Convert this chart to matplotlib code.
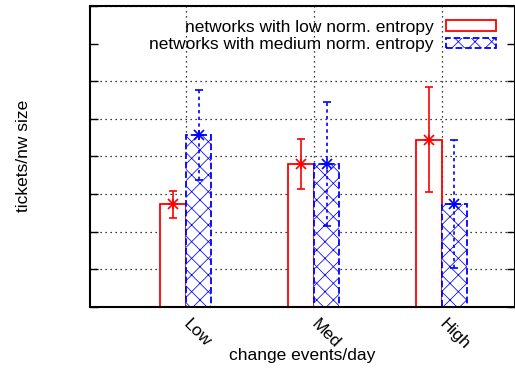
import matplotlib
matplotlib.use('Agg')
import matplotlib.pyplot as plt
import numpy as np

plt.rcParams['font.family'] = ['Liberation Sans', 'DejaVu Sans']
plt.rcParams['hatch.linewidth'] = 0.55

# data
categories = ['Low', 'Med', 'High']
low_mean = [2.72, 3.79, 4.44]
low_err = [0.36, 0.67, 1.40]
med_mean = [4.57, 3.79, 2.73]
med_err = [1.20, 1.65, 1.71]
series_labels = ['networks with low norm. entropy',
                 'networks with medium norm. entropy']

red = '#ff0000'
blue = '#0000ff'
x = np.arange(len(categories))
w = 0.2
fs = 12.5

fig = plt.figure(figsize=(5.15, 3.69), dpi=100)
ax = fig.add_axes([90 / 515, (369 - 306.7) / 369, 1 - 90 / 515, (306.7 - 6) / 369])

b1 = ax.bar(x - w / 2, low_mean, w, facecolor='white', edgecolor=red,
            linewidth=1.3, label=series_labels[0], zorder=2)
b2 = ax.bar(x + w / 2, med_mean, w, facecolor='white', edgecolor=blue,
            linewidth=1.3, linestyle='--', hatch='xx', label=series_labels[1], zorder=2)

# error bars
e1 = ax.errorbar(x - w / 2, low_mean, yerr=low_err, fmt='none', ecolor=red,
                 elinewidth=1.2, capsize=3, capthick=1.2, zorder=3)
e2 = ax.errorbar(x + w / 2, med_mean, yerr=med_err, fmt='none', ecolor=blue,
                 elinewidth=1.2, capsize=3, capthick=1.2, zorder=3)
for ln in e2[2]:
    ln.set_linestyle((0, (2, 2)))
for m in ['x', '+']:
    ax.plot(x - w / 2, low_mean, ls='none', marker=m, color=red, ms=7, mew=1.2, zorder=4)
    ax.plot(x + w / 2, med_mean, ls='none', marker=m, color=blue, ms=7, mew=1.2, zorder=4)

ax.set_xlim(-0.75, 2.574)
ax.set_ylim(0, 8)
ax.set_yticks(range(0, 9))
ax.set_yticklabels([])
ax.set_xticks(x)
ax.set_xticklabels(categories, rotation=-45, ha='left', va='center',
                   rotation_mode='anchor', fontsize=fs)
ax.tick_params(axis='x', length=0, pad=11)
ax.tick_params(axis='y', direction='in', length=6, width=1, right=True)

ax.set_axisbelow(True)
ax.grid(True, color='black', linestyle=(0, (1, 3)), linewidth=0.9)
ax.get_ygridlines()[7].set_visible(False)
for s in ax.spines.values():
    s.set_linewidth(1.5)

ax.set_xlabel('change events/day', fontsize=fs, labelpad=-3)
ax.set_ylabel('tickets/nw size', fontsize=fs, labelpad=39)

leg = ax.legend(handles=[b1, b2], loc='upper right', frameon=False, fontsize=fs,
                markerfirst=False, handlelength=2.9, handleheight=0.55,
                labelspacing=0.15, borderaxespad=0.3, handletextpad=0.7,
                bbox_to_anchor=(0.985, 0.995))
for t in leg.get_texts():
    t.set_ha('right')

fig.savefig('out.png', dpi=100)
